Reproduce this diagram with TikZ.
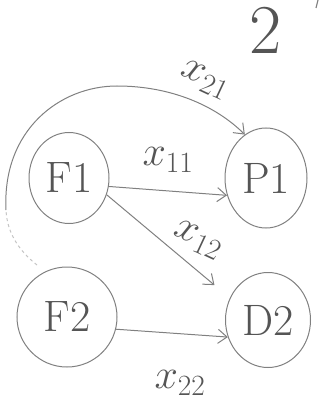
\RequirePackage{fix-cm}
\documentclass[tikz,border=0pt]{standalone}
\usetikzlibrary{shapes.geometric,arrows.meta}
\definecolor{pencil}{HTML}{808080}
\definecolor{faint}{HTML}{C4C4C4}
\definecolor{ink}{HTML}{555555}
\begin{document}
\begin{tikzpicture}[x=1pt,y=-1pt,
  state/.style={ellipse,draw=pencil,line width=1pt,inner sep=0pt,text=ink,font=\fontsize{44}{48}\selectfont},
  flow/.style={draw=pencil,line width=1pt,-{Straight Barb[length=9pt,width=14pt,line width=1pt]}},
  lbl/.style={text=ink,font=\fontsize{42}{46}\selectfont,inner sep=0pt}]
\useasboundingbox (0,0) rectangle (327,417);
\node[state,minimum width=80pt,minimum height=91pt] (F1) at (69,178) {F1};
\node[state,minimum width=82pt,minimum height=100pt] (P1) at (266,178) {P1};
\node[state,minimum width=100pt,minimum height=100pt] (F2) at (67,317) {F2};
\node[state,minimum width=85pt,minimum height=95pt] (D2) at (268,320) {D2};
\node[text=ink,font=\fontsize{70}{74}\selectfont,inner sep=0pt,text height=45pt,text depth=0pt] (two) at (266,31) {2};
\draw[pencil,line width=1.2pt] (318,0) -- (316,8);
% big arc x21
\coordinate (arcstart) at (37,265);
\coordinate (arcmid) at (6,210);
\draw[faint,line width=1pt,dashed] (arcstart) .. controls (18,250) and (7,232) .. (arcmid);
\draw[flow] (arcmid) .. controls (2,130) and (60,86) .. (117,86) .. controls (170,86) and (215,105) .. (P1.116);
\draw[flow] (F1.-12) -- (P1.204);
\draw[flow,shorten >=20pt] (F1.-24) -- (D2.150);
\draw[flow] (F2.-14) -- (D2.203);
\node[lbl,rotate=-25] (l21) at (205,80) {$x_{21}$};
\node[lbl] (l11) at (168,160) {$x_{11}$};
\node[lbl,rotate=-25] (l12) at (198,240) {$x_{12}$};
\node[lbl] (l22) at (180,383) {$x_{22}$};
\end{tikzpicture}
\end{document}
